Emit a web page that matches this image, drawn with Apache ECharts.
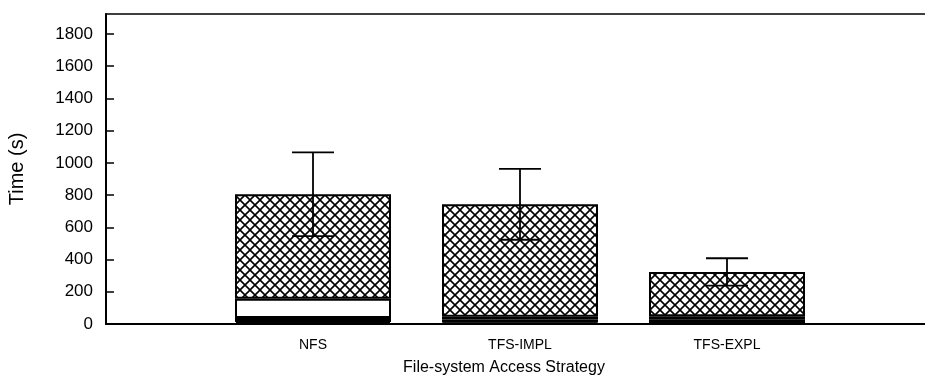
<!DOCTYPE html>
<html>
<head>
<meta charset="utf-8">
<script src="https://cdn.jsdelivr.net/npm/echarts@6/dist/echarts.min.js"></script>
<style>html,body{margin:0;padding:0;background:#fff;}#c{width:925px;height:381px;}</style>
</head>
<body>
<div id="c"></div>
<script>
var categories = ['NFS', 'TFS-IMPL', 'TFS-EXPL'];
var seg1 = [12, 10, 5];      // bottom white segment
var seg2 = [25, 18, 25];     // black segment
var seg3 = [120, 17, 18];    // white segment
var seg4 = [648, 698, 275];  // cross-hatched segment
var errs = [260, 220, 85];   // error bar half-length
var yTicks = [0, 200, 400, 600, 800, 1000, 1200, 1400, 1600, 1800];

function hatch() {
  var c = document.createElement('canvas');
  c.width = 10; c.height = 10;
  var g = c.getContext('2d');
  g.fillStyle = '#fff'; g.fillRect(0, 0, 10, 10);
  g.strokeStyle = '#000'; g.lineWidth = 1.6;
  g.beginPath();
  g.moveTo(-1, -1); g.lineTo(11, 11);
  g.moveTo(11, -1); g.lineTo(-1, 11);
  g.stroke();
  return c;
}

// value first, category index second (so that stacking happens on the value dimension)
function pts(arr) { return arr.map(function (v, i) { return [v, i]; }); }
var totals = categories.map(function (_, i) { return seg1[i] + seg2[i] + seg3[i] + seg4[i]; });
var errData = categories.map(function (_, i) { return [i, totals[i], errs[i]]; });

var border = { borderColor: '#000', borderWidth: 2 };
function barSeries(name, data, color) {
  return {
    name: name, type: 'bar', stack: 's', barWidth: 156, data: pts(data),
    encode: { x: 1, y: 0 },
    itemStyle: Object.assign({ color: color }, border), silent: true
  };
}

var FONT = 'Liberation Sans, Arial, sans-serif';
var chart = echarts.init(document.getElementById('c'));
chart.setOption({
  animation: false,
  backgroundColor: '#fff',
  grid: { left: 106, top: 14, bottom: 57, right: -9, containLabel: false, outerBoundsMode: 'none',
    show: true, borderColor: '#000', borderWidth: 1.5 },
  xAxis: {
    type: 'value', min: -1, max: 3, interval: 1,
    splitLine: { show: false },
    axisLine: { show: true, onZero: false, lineStyle: { color: '#000', width: 2 } },
    axisTick: { show: false },
    axisLabel: {
      margin: 14, color: '#000', fontSize: 14, fontFamily: FONT,
      formatter: function (v) { return categories[v] || ''; }
    }
  },
  yAxis: {
    type: 'value', min: 0, max: 1924, interval: 200,
    name: 'Time (s)', nameLocation: 'middle', nameGap: 79, nameRotate: 90,
    nameTextStyle: { color: '#000', fontSize: 20, fontFamily: FONT },
    splitLine: { show: false },
    axisLine: { show: true, onZero: false, lineStyle: { color: '#000', width: 2 } },
    axisTick: { show: true, inside: true, length: 8, lineStyle: { color: '#000', width: 1.5 } },
    axisLabel: {
      margin: 13, color: '#000', fontSize: 17, fontFamily: FONT,
      showMaxLabel: false,
      formatter: function (v) { return yTicks.indexOf(v) >= 0 ? String(v) : ''; }
    }
  },
  graphic: [{
    type: 'text', x: 504, y: 368,
    style: { text: 'File-system Access Strategy', align: 'center', verticalAlign: 'middle',
      fill: '#000', fontSize: 16, fontFamily: FONT }
  }],
  series: [
    barSeries('s1', seg1, '#fff'),
    barSeries('s2', seg2, '#000'),
    barSeries('s3', seg3, '#fff'),
    barSeries('s4', seg4, { image: hatch(), repeat: 'repeat' }),
    {
      type: 'custom', silent: true, data: errData, z: 10,
      renderItem: function (params, api) {
        var x = api.value(0), y = api.value(1), e = api.value(2);
        var hi = api.coord([x, y + e]);
        var lo = api.coord([x, y - e]);
        var hw = 21;
        var st = { stroke: '#000', lineWidth: 1.8 };
        return {
          type: 'group', children: [
            { type: 'line', shape: { x1: hi[0], y1: hi[1], x2: lo[0], y2: lo[1] }, style: st },
            { type: 'line', shape: { x1: hi[0] - hw, y1: hi[1], x2: hi[0] + hw, y2: hi[1] }, style: st },
            { type: 'line', shape: { x1: lo[0] - hw, y1: lo[1], x2: lo[0] + hw, y2: lo[1] }, style: st }
          ]
        };
      }
    }
  ]
});
</script>
</body>
</html>
